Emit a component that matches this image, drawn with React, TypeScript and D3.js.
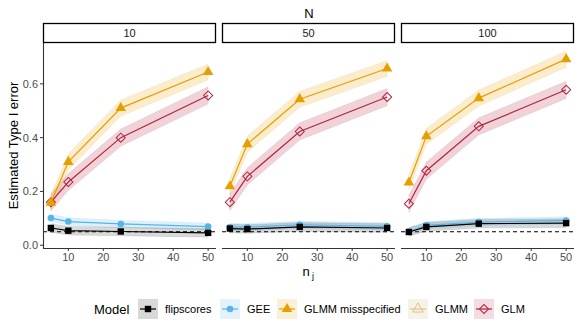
import React from "react";
import * as d3 from "d3";

const nj = [5, 10, 25, 50];
const panels = ["10", "50", "100"];
const models = ["flipscores", "GEE", "GLMM misspecified", "GLMM", "GLM"];
const yTicks = [0, 0.2, 0.4, 0.6];
const xTicks = [10, 20, 30, 40, 50];

// values per panel (N = 10, 50, 100), per nj
const flipscores = [
  [0.064, 0.054, 0.051, 0.046],
  [0.062, 0.06, 0.068, 0.064],
  [0.049, 0.068, 0.08, 0.082],
];
const gee = [
  [0.101, 0.088, 0.079, 0.069],
  [0.067, 0.067, 0.076, 0.07],
  [0.051, 0.074, 0.086, 0.092],
];
const glmmMis = [
  [0.158, 0.31, 0.51, 0.644],
  [0.219, 0.376, 0.543, 0.657],
  [0.233, 0.405, 0.547, 0.692],
];
const glmm: number[][] = [[], [], []];
const glm = [
  [0.16, 0.235, 0.4, 0.557],
  [0.16, 0.256, 0.423, 0.551],
  [0.154, 0.277, 0.442, 0.578],
];
const ciHalf = [0.016, 0.014, 0.03, 0.03, 0.032];

const colors = ["#000000", "#56B4E9", "#E69F00", "#DCC48E", "#B2243F"];
const series = [flipscores, gee, glmmMis, glmm, glm];

const panelX = [
  [43, 216],
  [222, 395],
  [401, 574],
];
const top = 43;
const bottom = 248;

const yScale = d3.scaleLinear().domain([-0.0104, 0.752]).range([bottom, top]);

function Marker({ i, x, y, c }: { i: number; x: number; y: number; c: string }) {
  if (i === 0) return <rect x={x - 3.2} y={y - 3.2} width={6.4} height={6.4} fill={c} />;
  if (i === 1) return <circle cx={x} cy={y} r={3.3} fill={c} />;
  if (i === 2) {
    const p = d3.symbol().type(d3.symbolTriangle).size(48)();
    return <path d={p!} transform={`translate(${x},${y})`} fill={c} />;
  }
  if (i === 3) {
    const p = d3.symbol().type(d3.symbolTriangle).size(48)();
    return <path d={p!} transform={`translate(${x},${y})`} fill="none" stroke={c} strokeWidth={1} />;
  }
  return (
    <rect x={x - 3.2} y={y - 3.2} width={6.4} height={6.4} fill="none" stroke={c} strokeWidth={1}
      transform={`rotate(45 ${x} ${y})`} />
  );
}

export default function App() {
  const font = "Liberation Sans, Arial, sans-serif";
  const legendKeys = [138, 220, 277, 408, 474];
  const legendFill = ["#D9D9D9", "#E4F3FB", "#FBEFD6", "#F7F2E8", "#F3DDE2"];
  return (
    <svg width={581} height={332} style={{ position: "absolute", left: 0, top: 0 }} fontFamily={font}>
      <rect width={581} height={332} fill="#fff" />
      <text x={309} y={18} textAnchor="middle" fontSize={13} fill="#000">N</text>
      {panels.map((p, pi) => {
        const [x0, x1] = panelX[pi];
        const xs = d3.scaleLinear().domain([2.75, 52.25]).range([x0, x1]);
        const area = d3
          .area<number>()
          .x((_, k) => xs(nj[k]))
          .y0((v, k) => yScale(v - ciHalf[curIdx]))
          .y1((v, k) => yScale(v + ciHalf[curIdx]));
        let curIdx = 0;
        const line = d3.line<number>().x((_, k) => xs(nj[k])).y((v) => yScale(v));
        const order = [4, 2, 3, 1, 0];
        return (
          <g key={p}>
            <rect x={x0 + 0.5} y={23.5} width={x1 - x0 - 1} height={19} fill="#fff" stroke="#000" strokeWidth={1.3} />
            <text x={(x0 + x1) / 2} y={37} textAnchor="middle" fontSize={11} fill="#1a1a1a">{p}</text>
            <line x1={x0} x2={x1} y1={yScale(0.05)} y2={yScale(0.05)} stroke="#000" strokeDasharray="4,3" strokeWidth={1} />
            {order.map((si) => {
              const vals = series[si][pi];
              if (!vals.length) return null;
              curIdx = si;
              return (
                <path key={"r" + si} d={area(vals)!} fill={colors[si]} fillOpacity={si === 0 ? 0.15 : 0.2}
                  stroke={colors[si]} strokeOpacity={0.15} strokeWidth={0.6} />
              );
            })}
            {order.map((si) => {
              const vals = series[si][pi];
              if (!vals.length) return null;
              return (
                <g key={"l" + si}>
                  <path d={line(vals)!} fill="none" stroke={colors[si]} strokeWidth={1.2} />
                  {vals.map((v, k) => (
                    <Marker key={k} i={si} x={xs(nj[k])} y={yScale(v)} c={colors[si]} />
                  ))}
                </g>
              );
            })}
            <line x1={x0} x2={x1} y1={bottom + 0.5} y2={bottom + 0.5} stroke="#333" strokeWidth={1.1} />
            {xTicks.map((t) => (
              <g key={t}>
                <line x1={xs(t)} x2={xs(t)} y1={bottom} y2={bottom + 3} stroke="#333" />
                <text x={xs(t)} y={bottom + 13} textAnchor="middle" fontSize={11} fill="#4D4D4D">{t}</text>
              </g>
            ))}
          </g>
        );
      })}
      <line x1={43.5} x2={43.5} y1={top} y2={bottom + 1} stroke="#333" strokeWidth={1.1} />
      {yTicks.map((t) => (
        <g key={t}>
          <line x1={40} x2={43} y1={yScale(t)} y2={yScale(t)} stroke="#333" />
          <text x={38} y={yScale(t) + 4} textAnchor="end" fontSize={11} fill="#4D4D4D">{t.toFixed(1)}</text>
        </g>
      ))}
      <text transform={`translate(18,${(top + bottom) / 2}) rotate(-90)`} textAnchor="middle" fontSize={13} fill="#000">
        Estimated Type I error
      </text>
      <text x={306} y={276} textAnchor="middle" fontSize={13} fill="#000">n</text>
      <text x={313} y={279} textAnchor="middle" fontSize={9} fill="#000">j</text>
      <text x={94} y={314} fontSize={13} fill="#000">Model</text>
      {models.map((m, i) => {
        const kx = legendKeys[i];
        const ky = 299;
        const c = colors[i];
        return (
          <g key={m}>
            <rect x={kx} y={ky} width={20} height={20} fill={legendFill[i]} />
            <line x1={kx + 2} x2={kx + 18} y1={ky + 10} y2={ky + 10} stroke={c} strokeWidth={1.2} />
            <Marker i={i} x={kx + 10} y={ky + 10} c={c} />
            <text x={kx + 27} y={ky + 14} fontSize={11} fill="#000">{m}</text>
          </g>
        );
      })}
    </svg>
  );
}
